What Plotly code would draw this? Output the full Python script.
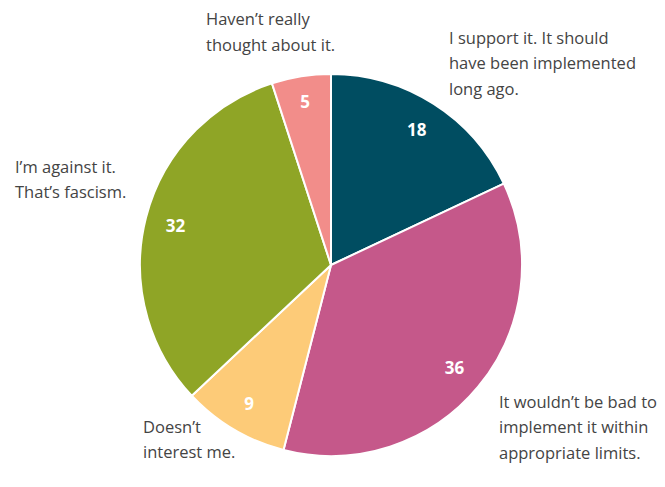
import plotly.graph_objects as go

categories = [
    "I support it. It should<br>have been implemented<br>long ago.",
    "It wouldn\u2019t be bad to<br>implement it within<br>appropriate limits.",
    "Doesn\u2019t<br>interest me.",
    "I\u2019m against it.<br>That\u2019s fascism.",
    "Haven\u2019t really<br>thought about it.",
]
values = [18, 36, 9, 32, 5]
colors = ["#004D61", "#C5588A", "#FDCB78", "#8FA526", "#F28D8A"]

# page offset (body margin)
OFF = 8
W, H = 665, 487
cx, cy, r = 331 - OFF, 265 - OFF, 191
# label left x and first-line center y (page px), line step
label_pos = [(447, 37), (497, 401), (141, 426), (13, 166), (204, 19)]
LINE_STEP = 25.7

domain = dict(x=[(cx - r) / W, (cx + r) / W], y=[(H - cy - r) / H, (H - cy + r) / H])

fig = go.Figure()
fig.add_trace(go.Pie(
    values=values,
    labels=[c.replace("<br>", " ") for c in categories],
    marker=dict(colors=colors, line=dict(color="white", width=2)),
    sort=False, direction="clockwise", rotation=0,
    textinfo="none",
    domain=domain, showlegend=False,
))
# value labels placed in an outer ring via a transparent donut overlay
fig.add_trace(go.Pie(
    values=values,
    labels=[c.replace("<br>", " ") for c in categories],
    marker=dict(colors=["rgba(0,0,0,0)"] * len(values), line=dict(width=0)),
    sort=False, direction="clockwise", rotation=0,
    hole=0.68,
    textinfo="value", textposition="inside",
    insidetextorientation="horizontal",
    textfont=dict(color="white", size=17, family="Open Sans", weight="bold"),
    hoverinfo="skip",
    domain=domain, showlegend=False,
))

for text, (x, y) in zip(categories, label_pos):
    for i, line in enumerate(text.split("<br>")):
        fig.add_annotation(
            text=line, x=(x - OFF) / W, y=1 - (y - OFF + i * LINE_STEP) / H,
            xref="paper", yref="paper",
            xanchor="left", yanchor="middle", align="left", showarrow=False,
            font=dict(size=16.5, color="#444444", family="Open Sans"),
        )

fig.update_layout(
    width=W, height=H,
    margin=dict(l=0, r=0, t=0, b=0),
    paper_bgcolor="white", plot_bgcolor="white",
    font=dict(family="Open Sans"),
)
fig.write_html("out.html")
